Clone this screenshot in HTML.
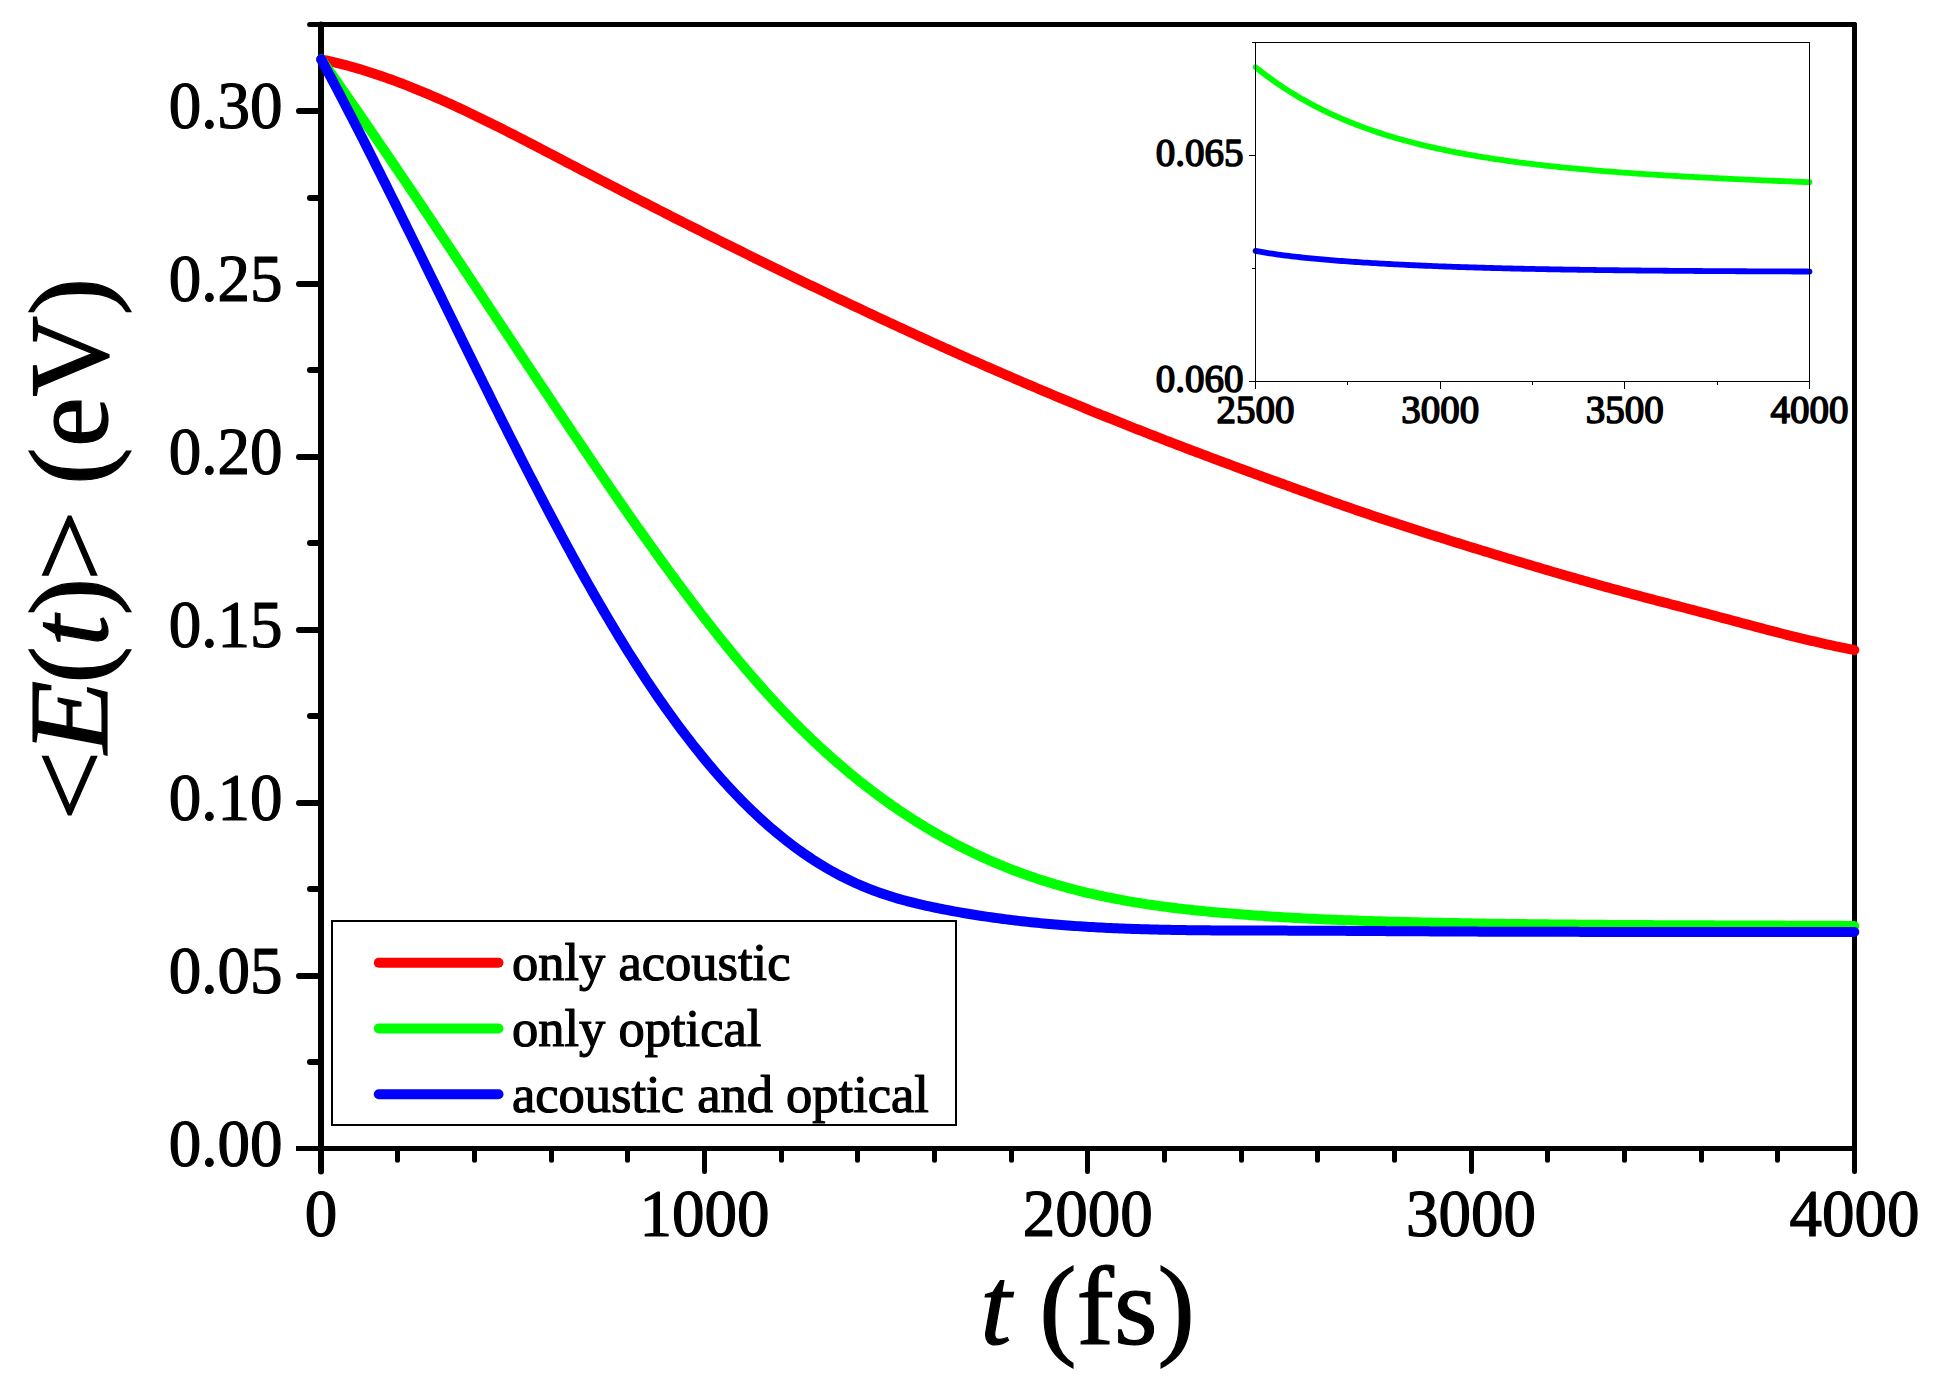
<!DOCTYPE html>
<html><head><meta charset="utf-8"><title>Energy relaxation</title>
<style>
html,body{margin:0;padding:0;background:#fff;}
svg{display:block;}
text{font-family:"Liberation Serif",serif;fill:#000;}
</style></head><body>
<svg width="1933" height="1383" viewBox="0 0 1933 1383">
<rect width="1933" height="1383" fill="#fff"/>

<g stroke="#000" stroke-width="5" fill="none" stroke-linecap="round">
<line x1="321.0" y1="24.5" x2="321.0" y2="1171.5" stroke-width="6"/>
<line x1="1854.5" y1="24.5" x2="1854.5" y2="1171.5"/>
<line x1="309.6" y1="24.5" x2="1854.5" y2="24.5" />
<line x1="296" y1="1148.5" x2="1854.5" y2="1148.5" stroke-linecap="butt"/>
<line x1="310" y1="1062" x2="321.0" y2="1062" stroke-width="6"/>
<line x1="299" y1="976" x2="321.0" y2="976" stroke-width="6"/>
<line x1="310" y1="889" x2="321.0" y2="889" stroke-width="6"/>
<line x1="299" y1="803" x2="321.0" y2="803" stroke-width="6"/>
<line x1="310" y1="716" x2="321.0" y2="716" stroke-width="6"/>
<line x1="299" y1="630" x2="321.0" y2="630" stroke-width="6"/>
<line x1="310" y1="543" x2="321.0" y2="543" stroke-width="6"/>
<line x1="299" y1="457" x2="321.0" y2="457" stroke-width="6"/>
<line x1="310" y1="370" x2="321.0" y2="370" stroke-width="6"/>
<line x1="299" y1="284" x2="321.0" y2="284" stroke-width="6"/>
<line x1="310" y1="198" x2="321.0" y2="198" stroke-width="6"/>
<line x1="299" y1="111" x2="321.0" y2="111" stroke-width="6"/>
<line x1="397.5" y1="1148.5" x2="397.5" y2="1160.3"/>
<line x1="474.5" y1="1148.5" x2="474.5" y2="1160.3"/>
<line x1="551.5" y1="1148.5" x2="551.5" y2="1160.3"/>
<line x1="627.5" y1="1148.5" x2="627.5" y2="1160.3"/>
<line x1="704.5" y1="1148.5" x2="704.5" y2="1171.5"/>
<line x1="781.5" y1="1148.5" x2="781.5" y2="1160.3"/>
<line x1="857.5" y1="1148.5" x2="857.5" y2="1160.3"/>
<line x1="934.5" y1="1148.5" x2="934.5" y2="1160.3"/>
<line x1="1011.5" y1="1148.5" x2="1011.5" y2="1160.3"/>
<line x1="1087.5" y1="1148.5" x2="1087.5" y2="1171.5"/>
<line x1="1164.5" y1="1148.5" x2="1164.5" y2="1160.3"/>
<line x1="1241.5" y1="1148.5" x2="1241.5" y2="1160.3"/>
<line x1="1317.5" y1="1148.5" x2="1317.5" y2="1160.3"/>
<line x1="1394.5" y1="1148.5" x2="1394.5" y2="1160.3"/>
<line x1="1471.5" y1="1148.5" x2="1471.5" y2="1171.5"/>
<line x1="1547.5" y1="1148.5" x2="1547.5" y2="1160.3"/>
<line x1="1624.5" y1="1148.5" x2="1624.5" y2="1160.3"/>
<line x1="1701.5" y1="1148.5" x2="1701.5" y2="1160.3"/>
<line x1="1777.5" y1="1148.5" x2="1777.5" y2="1160.3"/>
</g>
<g font-size="65" stroke="#000" stroke-width="1.2" stroke-linejoin="round">
<text transform="translate(282.4,1165.5) scale(1,1.03)" text-anchor="end">0.00</text>
<text transform="translate(282.4,992.6) scale(1,1.03)" text-anchor="end">0.05</text>
<text transform="translate(282.4,819.7) scale(1,1.03)" text-anchor="end">0.10</text>
<text transform="translate(282.4,646.8) scale(1,1.03)" text-anchor="end">0.15</text>
<text transform="translate(282.4,473.9) scale(1,1.03)" text-anchor="end">0.20</text>
<text transform="translate(282.4,301.0) scale(1,1.03)" text-anchor="end">0.25</text>
<text transform="translate(282.4,128.1) scale(1,1.03)" text-anchor="end">0.30</text>
<text transform="translate(321.0,1235.7) scale(1,1.03)" text-anchor="middle">0</text>
<text transform="translate(704.4,1235.7) scale(1,1.03)" text-anchor="middle">1000</text>
<text transform="translate(1087.8,1235.7) scale(1,1.03)" text-anchor="middle">2000</text>
<text transform="translate(1471.1,1235.7) scale(1,1.03)" text-anchor="middle">3000</text>
<text transform="translate(1854.5,1235.7) scale(1,1.03)" text-anchor="middle">4000</text>
</g>
<text x="1087.5" y="1344.4" font-size="112" stroke="#000" stroke-width="1.2" text-anchor="middle"><tspan font-style="italic">t</tspan> (fs)</text>
<text transform="translate(106.9,815) rotate(-90)" font-size="112" stroke="#000" stroke-width="1.2"><tspan x="-5.9" textLength="70.7" lengthAdjust="spacingAndGlyphs">&lt;</tspan><tspan x="61.2" font-style="italic" textLength="73.2" lengthAdjust="spacingAndGlyphs">E</tspan><tspan x="131.4">(<tspan font-style="italic">t</tspan>)</tspan><tspan x="233.4" textLength="71.5" lengthAdjust="spacingAndGlyphs">&gt;</tspan> <tspan x="330.3" letter-spacing="0.5">(eV)</tspan></text>
<g fill="none" stroke-width="10" stroke-linecap="round" stroke-linejoin="round">
<path stroke="#f00" d="M321.20,59.38 L324.27,60.02 L327.34,60.69 L330.42,61.38 L333.49,62.09 L336.56,62.83 L339.63,63.59 L342.71,64.37 L345.78,65.18 L348.85,66.01 L351.92,66.86 L355.00,67.74 L358.07,68.63 L361.14,69.55 L364.21,70.48 L367.29,71.44 L370.36,72.42 L373.43,73.42 L376.50,74.43 L379.57,75.47 L382.65,76.53 L385.72,77.60 L388.79,78.69 L391.86,79.80 L394.94,80.93 L398.01,82.08 L401.08,83.24 L404.15,84.42 L407.23,85.62 L410.30,86.83 L413.37,88.06 L416.44,89.30 L419.52,90.56 L422.59,91.83 L425.66,93.12 L428.73,94.42 L431.80,95.73 L434.88,97.06 L437.95,98.41 L441.02,99.76 L444.09,101.13 L447.17,102.51 L450.24,103.90 L453.31,105.30 L456.38,106.72 L459.46,108.14 L462.53,109.58 L465.60,111.03 L468.67,112.48 L471.74,113.95 L474.82,115.43 L477.89,116.91 L480.96,118.40 L484.03,119.91 L487.11,121.42 L490.18,122.93 L493.25,124.46 L496.32,125.99 L499.40,127.53 L502.47,129.07 L505.54,130.63 L508.61,132.18 L511.69,133.75 L514.76,135.31 L517.83,136.89 L520.90,138.46 L523.97,140.05 L527.05,141.63 L530.12,143.22 L533.19,144.81 L536.26,146.41 L539.34,148.01 L542.41,149.61 L545.48,151.21 L548.55,152.81 L551.63,154.42 L554.70,156.02 L557.77,157.63 L560.84,159.24 L563.92,160.84 L566.99,162.45 L570.06,164.06 L573.13,165.66 L576.20,167.27 L579.28,168.87 L582.35,170.47 L585.42,172.07 L588.49,173.67 L591.57,175.27 L594.64,176.87 L597.71,178.46 L600.78,180.06 L603.86,181.65 L606.93,183.24 L610.00,184.83 L613.07,186.42 L616.15,188.01 L619.22,189.60 L622.29,191.18 L625.36,192.77 L628.43,194.35 L631.51,195.93 L634.58,197.51 L637.65,199.09 L640.72,200.67 L643.80,202.24 L646.87,203.82 L649.94,205.39 L653.01,206.96 L656.09,208.53 L659.16,210.10 L662.23,211.66 L665.30,213.23 L668.37,214.79 L671.45,216.36 L674.52,217.92 L677.59,219.47 L680.66,221.03 L683.74,222.59 L686.81,224.14 L689.88,225.70 L692.95,227.25 L696.03,228.80 L699.10,230.34 L702.17,231.89 L705.24,233.44 L708.32,234.98 L711.39,236.52 L714.46,238.06 L717.53,239.60 L720.60,241.13 L723.68,242.67 L726.75,244.20 L729.82,245.73 L732.89,247.26 L735.97,248.79 L739.04,250.32 L742.11,251.84 L745.18,253.36 L748.26,254.88 L751.33,256.40 L754.40,257.92 L757.47,259.43 L760.55,260.95 L763.62,262.46 L766.69,263.97 L769.76,265.48 L772.83,266.98 L775.91,268.49 L778.98,269.99 L782.05,271.49 L785.12,272.99 L788.20,274.48 L791.27,275.98 L794.34,277.47 L797.41,278.96 L800.49,280.45 L803.56,281.93 L806.63,283.42 L809.70,284.90 L812.78,286.38 L815.85,287.86 L818.92,289.34 L821.99,290.81 L825.06,292.28 L828.14,293.75 L831.21,295.22 L834.28,296.69 L837.35,298.15 L840.43,299.61 L843.50,301.07 L846.57,302.53 L849.64,303.99 L852.72,305.44 L855.79,306.89 L858.86,308.34 L861.93,309.79 L865.01,311.23 L868.08,312.67 L871.15,314.11 L874.22,315.55 L877.29,316.99 L880.37,318.42 L883.44,319.85 L886.51,321.28 L889.58,322.70 L892.66,324.13 L895.73,325.55 L898.80,326.97 L901.87,328.39 L904.95,329.80 L908.02,331.21 L911.09,332.62 L914.16,334.03 L917.23,335.44 L920.31,336.84 L923.38,338.24 L926.45,339.64 L929.52,341.03 L932.60,342.43 L935.67,343.82 L938.74,345.21 L941.81,346.59 L944.89,347.98 L947.96,349.36 L951.03,350.74 L954.10,352.11 L957.18,353.48 L960.25,354.85 L963.32,356.22 L966.39,357.59 L969.46,358.95 L972.54,360.31 L975.61,361.67 L978.68,363.03 L981.75,364.38 L984.83,365.73 L987.90,367.08 L990.97,368.42 L994.04,369.76 L997.12,371.10 L1000.19,372.44 L1003.26,373.77 L1006.33,375.10 L1009.41,376.43 L1012.48,377.76 L1015.55,379.08 L1018.62,380.40 L1021.69,381.72 L1024.77,383.04 L1027.84,384.35 L1030.91,385.66 L1033.98,386.96 L1037.06,388.27 L1040.13,389.57 L1043.20,390.87 L1046.27,392.16 L1049.35,393.45 L1052.42,394.74 L1055.49,396.03 L1058.56,397.32 L1061.64,398.60 L1064.71,399.88 L1067.78,401.15 L1070.85,402.43 L1073.92,403.70 L1077.00,404.97 L1080.07,406.23 L1083.14,407.49 L1086.21,408.75 L1089.29,410.01 L1092.36,411.26 L1095.43,412.52 L1098.50,413.76 L1101.58,415.01 L1104.65,416.25 L1107.72,417.49 L1110.79,418.73 L1113.86,419.97 L1116.94,421.20 L1120.01,422.43 L1123.08,423.66 L1126.15,424.88 L1129.23,426.10 L1132.30,427.32 L1135.37,428.53 L1138.44,429.75 L1141.52,430.96 L1144.59,432.17 L1147.66,433.37 L1150.73,434.57 L1153.81,435.77 L1156.88,436.97 L1159.95,438.16 L1163.02,439.35 L1166.09,440.54 L1169.17,441.73 L1172.24,442.91 L1175.31,444.09 L1178.38,445.27 L1181.46,446.45 L1184.53,447.62 L1187.60,448.79 L1190.67,449.96 L1193.75,451.12 L1196.82,452.28 L1199.89,453.44 L1202.96,454.60 L1206.04,455.76 L1209.11,456.91 L1212.18,458.06 L1215.25,459.21 L1218.32,460.36 L1221.40,461.51 L1224.47,462.65 L1227.54,463.79 L1230.61,464.93 L1233.69,466.07 L1236.76,467.20 L1239.83,468.34 L1242.90,469.47 L1245.98,470.60 L1249.05,471.73 L1252.12,472.86 L1255.19,473.98 L1258.27,475.11 L1261.34,476.23 L1264.41,477.35 L1267.48,478.47 L1270.55,479.59 L1273.63,480.71 L1276.70,481.82 L1279.77,482.94 L1282.84,484.05 L1285.92,485.17 L1288.99,486.28 L1292.06,487.39 L1295.13,488.50 L1298.21,489.60 L1301.28,490.71 L1304.35,491.81 L1307.42,492.91 L1310.49,494.01 L1313.57,495.10 L1316.64,496.20 L1319.71,497.29 L1322.78,498.38 L1325.86,499.47 L1328.93,500.55 L1332.00,501.63 L1335.07,502.71 L1338.15,503.79 L1341.22,504.86 L1344.29,505.93 L1347.36,506.99 L1350.44,508.06 L1353.51,509.12 L1356.58,510.17 L1359.65,511.23 L1362.72,512.27 L1365.80,513.32 L1368.87,514.36 L1371.94,515.40 L1375.01,516.43 L1378.09,517.46 L1381.16,518.49 L1384.23,519.51 L1387.30,520.53 L1390.38,521.54 L1393.45,522.55 L1396.52,523.56 L1399.59,524.56 L1402.67,525.56 L1405.74,526.56 L1408.81,527.55 L1411.88,528.55 L1414.95,529.53 L1418.03,530.52 L1421.10,531.50 L1424.17,532.48 L1427.24,533.46 L1430.32,534.43 L1433.39,535.41 L1436.46,536.38 L1439.53,537.34 L1442.61,538.31 L1445.68,539.27 L1448.75,540.23 L1451.82,541.19 L1454.90,542.15 L1457.97,543.10 L1461.04,544.06 L1464.11,545.01 L1467.18,545.96 L1470.26,546.91 L1473.33,547.86 L1476.40,548.80 L1479.47,549.75 L1482.55,550.69 L1485.62,551.63 L1488.69,552.57 L1491.76,553.51 L1494.84,554.45 L1497.91,555.39 L1500.98,556.32 L1504.05,557.26 L1507.13,558.19 L1510.20,559.12 L1513.27,560.05 L1516.34,560.97 L1519.41,561.90 L1522.49,562.82 L1525.56,563.74 L1528.63,564.66 L1531.70,565.57 L1534.78,566.49 L1537.85,567.40 L1540.92,568.31 L1543.99,569.22 L1547.07,570.12 L1550.14,571.03 L1553.21,571.93 L1556.28,572.82 L1559.35,573.72 L1562.43,574.61 L1565.50,575.50 L1568.57,576.39 L1571.64,577.28 L1574.72,578.16 L1577.79,579.04 L1580.86,579.91 L1583.93,580.79 L1587.01,581.66 L1590.08,582.52 L1593.15,583.39 L1596.22,584.25 L1599.30,585.11 L1602.37,585.96 L1605.44,586.81 L1608.51,587.66 L1611.58,588.51 L1614.66,589.35 L1617.73,590.18 L1620.80,591.02 L1623.87,591.85 L1626.95,592.68 L1630.02,593.50 L1633.09,594.32 L1636.16,595.14 L1639.24,595.95 L1642.31,596.77 L1645.38,597.58 L1648.45,598.38 L1651.53,599.19 L1654.60,600.00 L1657.67,600.80 L1660.74,601.60 L1663.81,602.40 L1666.89,603.21 L1669.96,604.01 L1673.03,604.81 L1676.10,605.61 L1679.18,606.41 L1682.25,607.22 L1685.32,608.02 L1688.39,608.83 L1691.47,609.63 L1694.54,610.44 L1697.61,611.25 L1700.68,612.06 L1703.76,612.88 L1706.83,613.70 L1709.90,614.52 L1712.97,615.34 L1716.04,616.16 L1719.12,616.98 L1722.19,617.80 L1725.26,618.63 L1728.33,619.45 L1731.41,620.28 L1734.48,621.10 L1737.55,621.92 L1740.62,622.75 L1743.70,623.57 L1746.77,624.39 L1749.84,625.20 L1752.91,626.02 L1755.98,626.83 L1759.06,627.64 L1762.13,628.45 L1765.20,629.26 L1768.27,630.06 L1771.35,630.86 L1774.42,631.65 L1777.49,632.44 L1780.56,633.23 L1783.64,634.01 L1786.71,634.78 L1789.78,635.55 L1792.85,636.32 L1795.93,637.08 L1799.00,637.83 L1802.07,638.57 L1805.14,639.31 L1808.21,640.05 L1811.29,640.77 L1814.36,641.49 L1817.43,642.20 L1820.50,642.90 L1823.58,643.59 L1826.65,644.28 L1829.72,644.95 L1832.79,645.62 L1835.87,646.28 L1838.94,646.92 L1842.01,647.56 L1845.08,648.19 L1848.16,648.81 L1851.23,649.41 L1854.30,650.01"/>
<path stroke="#0f0" d="M321.20,59.41 L324.27,63.76 L327.34,68.11 L330.42,72.47 L333.49,76.85 L336.56,81.23 L339.63,85.62 L342.71,90.02 L345.78,94.43 L348.85,98.85 L351.92,103.28 L355.00,107.72 L358.07,112.16 L361.14,116.62 L364.21,121.08 L367.29,125.55 L370.36,130.03 L373.43,134.51 L376.50,139.00 L379.57,143.50 L382.65,148.01 L385.72,152.52 L388.79,157.04 L391.86,161.57 L394.94,166.10 L398.01,170.64 L401.08,175.18 L404.15,179.73 L407.23,184.29 L410.30,188.85 L413.37,193.41 L416.44,197.98 L419.52,202.56 L422.59,207.14 L425.66,211.72 L428.73,216.31 L431.80,220.90 L434.88,225.50 L437.95,230.10 L441.02,234.70 L444.09,239.30 L447.17,243.91 L450.24,248.52 L453.31,253.14 L456.38,257.75 L459.46,262.37 L462.53,266.99 L465.60,271.62 L468.67,276.24 L471.74,280.87 L474.82,285.50 L477.89,290.13 L480.96,294.75 L484.03,299.39 L487.11,304.02 L490.18,308.65 L493.25,313.28 L496.32,317.91 L499.40,322.54 L502.47,327.17 L505.54,331.80 L508.61,336.44 L511.69,341.06 L514.76,345.69 L517.83,350.32 L520.90,354.94 L523.97,359.57 L527.05,364.19 L530.12,368.81 L533.19,373.43 L536.26,378.04 L539.34,382.66 L542.41,387.27 L545.48,391.87 L548.55,396.48 L551.63,401.08 L554.70,405.67 L557.77,410.27 L560.84,414.86 L563.92,419.44 L566.99,424.02 L570.06,428.60 L573.13,433.17 L576.20,437.74 L579.28,442.30 L582.35,446.85 L585.42,451.40 L588.49,455.94 L591.57,460.48 L594.64,465.00 L597.71,469.52 L600.78,474.03 L603.86,478.53 L606.93,483.02 L610.00,487.50 L613.07,491.97 L616.15,496.42 L619.22,500.87 L622.29,505.31 L625.36,509.73 L628.43,514.14 L631.51,518.54 L634.58,522.93 L637.65,527.30 L640.72,531.66 L643.80,536.00 L646.87,540.33 L649.94,544.64 L653.01,548.94 L656.09,553.22 L659.16,557.48 L662.23,561.73 L665.30,565.96 L668.37,570.17 L671.45,574.36 L674.52,578.53 L677.59,582.69 L680.66,586.83 L683.74,590.94 L686.81,595.04 L689.88,599.11 L692.95,603.16 L696.03,607.20 L699.10,611.20 L702.17,615.19 L705.24,619.16 L708.32,623.10 L711.39,627.01 L714.46,630.91 L717.53,634.77 L720.60,638.62 L723.68,642.44 L726.75,646.23 L729.82,649.99 L732.89,653.73 L735.97,657.44 L739.04,661.13 L742.11,664.79 L745.18,668.41 L748.26,672.01 L751.33,675.58 L754.40,679.13 L757.47,682.64 L760.55,686.12 L763.62,689.57 L766.69,692.98 L769.76,696.37 L772.83,699.73 L775.91,703.05 L778.98,706.34 L782.05,709.59 L785.12,712.82 L788.20,716.00 L791.27,719.16 L794.34,722.28 L797.41,725.37 L800.49,728.43 L803.56,731.46 L806.63,734.45 L809.70,737.41 L812.78,740.34 L815.85,743.24 L818.92,746.10 L821.99,748.94 L825.06,751.74 L828.14,754.51 L831.21,757.25 L834.28,759.96 L837.35,762.64 L840.43,765.29 L843.50,767.91 L846.57,770.50 L849.64,773.06 L852.72,775.59 L855.79,778.09 L858.86,780.55 L861.93,782.99 L865.01,785.40 L868.08,787.79 L871.15,790.14 L874.22,792.46 L877.29,794.76 L880.37,797.02 L883.44,799.26 L886.51,801.47 L889.58,803.65 L892.66,805.81 L895.73,807.94 L898.80,810.03 L901.87,812.11 L904.95,814.15 L908.02,816.17 L911.09,818.16 L914.16,820.12 L917.23,822.06 L920.31,823.97 L923.38,825.86 L926.45,827.72 L929.52,829.55 L932.60,831.36 L935.67,833.14 L938.74,834.89 L941.81,836.63 L944.89,838.33 L947.96,840.01 L951.03,841.67 L954.10,843.30 L957.18,844.91 L960.25,846.49 L963.32,848.05 L966.39,849.58 L969.46,851.09 L972.54,852.58 L975.61,854.04 L978.68,855.48 L981.75,856.90 L984.83,858.29 L987.90,859.67 L990.97,861.01 L994.04,862.34 L997.12,863.64 L1000.19,864.92 L1003.26,866.18 L1006.33,867.42 L1009.41,868.63 L1012.48,869.83 L1015.55,871.00 L1018.62,872.15 L1021.69,873.28 L1024.77,874.39 L1027.84,875.48 L1030.91,876.55 L1033.98,877.59 L1037.06,878.62 L1040.13,879.63 L1043.20,880.62 L1046.27,881.58 L1049.35,882.53 L1052.42,883.47 L1055.49,884.38 L1058.56,885.27 L1061.64,886.15 L1064.71,887.01 L1067.78,887.85 L1070.85,888.67 L1073.92,889.48 L1077.00,890.27 L1080.07,891.04 L1083.14,891.80 L1086.21,892.54 L1089.29,893.26 L1092.36,893.97 L1095.43,894.66 L1098.50,895.34 L1101.58,896.01 L1104.65,896.65 L1107.72,897.29 L1110.79,897.91 L1113.86,898.51 L1116.94,899.11 L1120.01,899.69 L1123.08,900.25 L1126.15,900.80 L1129.23,901.34 L1132.30,901.87 L1135.37,902.39 L1138.44,902.89 L1141.52,903.38 L1144.59,903.86 L1147.66,904.33 L1150.73,904.79 L1153.81,905.23 L1156.88,905.67 L1159.95,906.09 L1163.02,906.51 L1166.09,906.91 L1169.17,907.31 L1172.24,907.70 L1175.31,908.07 L1178.38,908.44 L1181.46,908.80 L1184.53,909.15 L1187.60,909.49 L1190.67,909.83 L1193.75,910.16 L1196.82,910.48 L1199.89,910.79 L1202.96,911.09 L1206.04,911.39 L1209.11,911.69 L1212.18,911.97 L1215.25,912.25 L1218.32,912.53 L1221.40,912.79 L1224.47,913.06 L1227.54,913.32 L1230.61,913.57 L1233.69,913.82 L1236.76,914.06 L1239.83,914.30 L1242.90,914.54 L1245.98,914.77 L1249.05,914.99 L1252.12,915.22 L1255.19,915.43 L1258.27,915.65 L1261.34,915.86 L1264.41,916.06 L1267.48,916.26 L1270.55,916.46 L1273.63,916.65 L1276.70,916.84 L1279.77,917.03 L1282.84,917.21 L1285.92,917.39 L1288.99,917.56 L1292.06,917.73 L1295.13,917.90 L1298.21,918.07 L1301.28,918.23 L1304.35,918.38 L1307.42,918.54 L1310.49,918.69 L1313.57,918.84 L1316.64,918.98 L1319.71,919.12 L1322.78,919.26 L1325.86,919.39 L1328.93,919.53 L1332.00,919.65 L1335.07,919.78 L1338.15,919.90 L1341.22,920.02 L1344.29,920.14 L1347.36,920.26 L1350.44,920.37 L1353.51,920.48 L1356.58,920.59 L1359.65,920.69 L1362.72,920.80 L1365.80,920.90 L1368.87,921.00 L1371.94,921.09 L1375.01,921.19 L1378.09,921.28 L1381.16,921.37 L1384.23,921.46 L1387.30,921.54 L1390.38,921.63 L1393.45,921.71 L1396.52,921.79 L1399.59,921.87 L1402.67,921.95 L1405.74,922.02 L1408.81,922.10 L1411.88,922.17 L1414.95,922.24 L1418.03,922.31 L1421.10,922.38 L1424.17,922.45 L1427.24,922.52 L1430.32,922.58 L1433.39,922.65 L1436.46,922.71 L1439.53,922.77 L1442.61,922.83 L1445.68,922.89 L1448.75,922.95 L1451.82,923.01 L1454.90,923.06 L1457.97,923.12 L1461.04,923.18 L1464.11,923.23 L1467.18,923.28 L1470.26,923.33 L1473.33,923.39 L1476.40,923.44 L1479.47,923.49 L1482.55,923.53 L1485.62,923.58 L1488.69,923.63 L1491.76,923.67 L1494.84,923.72 L1497.91,923.76 L1500.98,923.81 L1504.05,923.85 L1507.13,923.89 L1510.20,923.93 L1513.27,923.97 L1516.34,924.01 L1519.41,924.05 L1522.49,924.09 L1525.56,924.12 L1528.63,924.16 L1531.70,924.20 L1534.78,924.23 L1537.85,924.26 L1540.92,924.30 L1543.99,924.33 L1547.07,924.36 L1550.14,924.39 L1553.21,924.42 L1556.28,924.45 L1559.35,924.48 L1562.43,924.51 L1565.50,924.54 L1568.57,924.57 L1571.64,924.59 L1574.72,924.62 L1577.79,924.65 L1580.86,924.67 L1583.93,924.70 L1587.01,924.72 L1590.08,924.74 L1593.15,924.77 L1596.22,924.79 L1599.30,924.81 L1602.37,924.83 L1605.44,924.85 L1608.51,924.88 L1611.58,924.90 L1614.66,924.92 L1617.73,924.93 L1620.80,924.95 L1623.87,924.97 L1626.95,924.99 L1630.02,925.01 L1633.09,925.03 L1636.16,925.04 L1639.24,925.06 L1642.31,925.07 L1645.38,925.09 L1648.45,925.11 L1651.53,925.12 L1654.60,925.14 L1657.67,925.15 L1660.74,925.16 L1663.81,925.18 L1666.89,925.19 L1669.96,925.21 L1673.03,925.22 L1676.10,925.23 L1679.18,925.24 L1682.25,925.26 L1685.32,925.27 L1688.39,925.28 L1691.47,925.29 L1694.54,925.31 L1697.61,925.32 L1700.68,925.33 L1703.76,925.34 L1706.83,925.35 L1709.90,925.36 L1712.97,925.37 L1716.04,925.38 L1719.12,925.39 L1722.19,925.40 L1725.26,925.42 L1728.33,925.43 L1731.41,925.44 L1734.48,925.45 L1737.55,925.46 L1740.62,925.47 L1743.70,925.48 L1746.77,925.49 L1749.84,925.50 L1752.91,925.51 L1755.98,925.52 L1759.06,925.53 L1762.13,925.54 L1765.20,925.55 L1768.27,925.56 L1771.35,925.57 L1774.42,925.58 L1777.49,925.59 L1780.56,925.60 L1783.64,925.62 L1786.71,925.63 L1789.78,925.64 L1792.85,925.65 L1795.93,925.66 L1799.00,925.67 L1802.07,925.69 L1805.14,925.70 L1808.21,925.71 L1811.29,925.72 L1814.36,925.74 L1817.43,925.75 L1820.50,925.76 L1823.58,925.78 L1826.65,925.79 L1829.72,925.81 L1832.79,925.82 L1835.87,925.84 L1838.94,925.85 L1842.01,925.87 L1845.08,925.88 L1848.16,925.90 L1851.23,925.91 L1854.30,925.93"/>
<path stroke="#00f" d="M321.20,59.39 L324.27,65.12 L327.34,70.87 L330.42,76.65 L333.49,82.46 L336.56,88.29 L339.63,94.15 L342.71,100.03 L345.78,105.94 L348.85,111.87 L351.92,117.82 L355.00,123.79 L358.07,129.78 L361.14,135.80 L364.21,141.83 L367.29,147.89 L370.36,153.96 L373.43,160.04 L376.50,166.15 L379.57,172.27 L382.65,178.40 L385.72,184.55 L388.79,190.71 L391.86,196.89 L394.94,203.07 L398.01,209.27 L401.08,215.48 L404.15,221.70 L407.23,227.93 L410.30,234.16 L413.37,240.40 L416.44,246.65 L419.52,252.91 L422.59,259.17 L425.66,265.44 L428.73,271.71 L431.80,277.98 L434.88,284.25 L437.95,290.53 L441.02,296.81 L444.09,303.09 L447.17,309.36 L450.24,315.64 L453.31,321.91 L456.38,328.18 L459.46,334.45 L462.53,340.72 L465.60,346.97 L468.67,353.23 L471.74,359.47 L474.82,365.71 L477.89,371.94 L480.96,378.16 L484.03,384.37 L487.11,390.58 L490.18,396.77 L493.25,402.95 L496.32,409.11 L499.40,415.27 L502.47,421.41 L505.54,427.53 L508.61,433.64 L511.69,439.74 L514.76,445.81 L517.83,451.87 L520.90,457.91 L523.97,463.93 L527.05,469.93 L530.12,475.92 L533.19,481.88 L536.26,487.81 L539.34,493.73 L542.41,499.62 L545.48,505.49 L548.55,511.33 L551.63,517.15 L554.70,522.94 L557.77,528.70 L560.84,534.43 L563.92,540.14 L566.99,545.82 L570.06,551.46 L573.13,557.08 L576.20,562.66 L579.28,568.21 L582.35,573.73 L585.42,579.22 L588.49,584.67 L591.57,590.08 L594.64,595.46 L597.71,600.80 L600.78,606.10 L603.86,611.37 L606.93,616.59 L610.00,621.78 L613.07,626.93 L616.15,632.03 L619.22,637.09 L622.29,642.11 L625.36,647.09 L628.43,652.02 L631.51,656.91 L634.58,661.75 L637.65,666.54 L640.72,671.29 L643.80,676.00 L646.87,680.65 L649.94,685.26 L653.01,689.82 L656.09,694.33 L659.16,698.80 L662.23,703.22 L665.30,707.59 L668.37,711.91 L671.45,716.19 L674.52,720.42 L677.59,724.59 L680.66,728.73 L683.74,732.81 L686.81,736.84 L689.88,740.82 L692.95,744.76 L696.03,748.65 L699.10,752.48 L702.17,756.27 L705.24,760.01 L708.32,763.69 L711.39,767.33 L714.46,770.92 L717.53,774.45 L720.60,777.94 L723.68,781.38 L726.75,784.76 L729.82,788.10 L732.89,791.38 L735.97,794.62 L739.04,797.80 L742.11,800.94 L745.18,804.02 L748.26,807.06 L751.33,810.04 L754.40,812.98 L757.47,815.86 L760.55,818.70 L763.62,821.49 L766.69,824.23 L769.76,826.92 L772.83,829.56 L775.91,832.16 L778.98,834.70 L782.05,837.20 L785.12,839.65 L788.20,842.05 L791.27,844.40 L794.34,846.71 L797.41,848.97 L800.49,851.18 L803.56,853.34 L806.63,855.45 L809.70,857.52 L812.78,859.55 L815.85,861.52 L818.92,863.46 L821.99,865.34 L825.06,867.18 L828.14,868.98 L831.21,870.73 L834.28,872.44 L837.35,874.10 L840.43,875.72 L843.50,877.30 L846.57,878.84 L849.64,880.33 L852.72,881.78 L855.79,883.19 L858.86,884.55 L861.93,885.88 L865.01,887.17 L868.08,888.41 L871.15,889.62 L874.22,890.78 L877.29,891.91 L880.37,893.00 L883.44,894.06 L886.51,895.08 L889.58,896.06 L892.66,897.02 L895.73,897.95 L898.80,898.84 L901.87,899.71 L904.95,900.55 L908.02,901.36 L911.09,902.15 L914.16,902.92 L917.23,903.66 L920.31,904.39 L923.38,905.09 L926.45,905.78 L929.52,906.45 L932.60,907.10 L935.67,907.74 L938.74,908.36 L941.81,908.98 L944.89,909.58 L947.96,910.17 L951.03,910.75 L954.10,911.32 L957.18,911.87 L960.25,912.42 L963.32,912.95 L966.39,913.48 L969.46,913.99 L972.54,914.49 L975.61,914.99 L978.68,915.47 L981.75,915.94 L984.83,916.40 L987.90,916.86 L990.97,917.30 L994.04,917.73 L997.12,918.15 L1000.19,918.57 L1003.26,918.97 L1006.33,919.37 L1009.41,919.75 L1012.48,920.13 L1015.55,920.50 L1018.62,920.85 L1021.69,921.20 L1024.77,921.55 L1027.84,921.88 L1030.91,922.20 L1033.98,922.52 L1037.06,922.83 L1040.13,923.13 L1043.20,923.42 L1046.27,923.70 L1049.35,923.98 L1052.42,924.25 L1055.49,924.51 L1058.56,924.76 L1061.64,925.01 L1064.71,925.24 L1067.78,925.48 L1070.85,925.70 L1073.92,925.92 L1077.00,926.13 L1080.07,926.33 L1083.14,926.53 L1086.21,926.72 L1089.29,926.91 L1092.36,927.09 L1095.43,927.26 L1098.50,927.43 L1101.58,927.59 L1104.65,927.74 L1107.72,927.89 L1110.79,928.04 L1113.86,928.17 L1116.94,928.31 L1120.01,928.44 L1123.08,928.56 L1126.15,928.68 L1129.23,928.79 L1132.30,928.90 L1135.37,929.00 L1138.44,929.10 L1141.52,929.19 L1144.59,929.28 L1147.66,929.37 L1150.73,929.45 L1153.81,929.53 L1156.88,929.60 L1159.95,929.67 L1163.02,929.74 L1166.09,929.80 L1169.17,929.86 L1172.24,929.91 L1175.31,929.97 L1178.38,930.02 L1181.46,930.06 L1184.53,930.11 L1187.60,930.15 L1190.67,930.18 L1193.75,930.22 L1196.82,930.25 L1199.89,930.28 L1202.96,930.31 L1206.04,930.34 L1209.11,930.36 L1212.18,930.38 L1215.25,930.40 L1218.32,930.42 L1221.40,930.44 L1224.47,930.46 L1227.54,930.47 L1230.61,930.48 L1233.69,930.49 L1236.76,930.50 L1239.83,930.51 L1242.90,930.52 L1245.98,930.53 L1249.05,930.54 L1252.12,930.55 L1255.19,930.55 L1258.27,930.56 L1261.34,930.56 L1264.41,930.57 L1267.48,930.58 L1270.55,930.58 L1273.63,930.59 L1276.70,930.60 L1279.77,930.60 L1282.84,930.61 L1285.92,930.62 L1288.99,930.63 L1292.06,930.64 L1295.13,930.65 L1298.21,930.66 L1301.28,930.67 L1304.35,930.68 L1307.42,930.70 L1310.49,930.71 L1313.57,930.72 L1316.64,930.74 L1319.71,930.75 L1322.78,930.76 L1325.86,930.78 L1328.93,930.79 L1332.00,930.81 L1335.07,930.83 L1338.15,930.84 L1341.22,930.86 L1344.29,930.87 L1347.36,930.89 L1350.44,930.91 L1353.51,930.93 L1356.58,930.94 L1359.65,930.96 L1362.72,930.98 L1365.80,931.00 L1368.87,931.02 L1371.94,931.03 L1375.01,931.05 L1378.09,931.07 L1381.16,931.09 L1384.23,931.11 L1387.30,931.13 L1390.38,931.15 L1393.45,931.17 L1396.52,931.18 L1399.59,931.20 L1402.67,931.22 L1405.74,931.24 L1408.81,931.26 L1411.88,931.28 L1414.95,931.30 L1418.03,931.31 L1421.10,931.33 L1424.17,931.35 L1427.24,931.37 L1430.32,931.39 L1433.39,931.40 L1436.46,931.42 L1439.53,931.44 L1442.61,931.46 L1445.68,931.47 L1448.75,931.49 L1451.82,931.51 L1454.90,931.52 L1457.97,931.54 L1461.04,931.55 L1464.11,931.57 L1467.18,931.58 L1470.26,931.60 L1473.33,931.61 L1476.40,931.62 L1479.47,931.64 L1482.55,931.65 L1485.62,931.66 L1488.69,931.67 L1491.76,931.68 L1494.84,931.69 L1497.91,931.70 L1500.98,931.72 L1504.05,931.73 L1507.13,931.73 L1510.20,931.74 L1513.27,931.75 L1516.34,931.76 L1519.41,931.77 L1522.49,931.78 L1525.56,931.79 L1528.63,931.79 L1531.70,931.80 L1534.78,931.81 L1537.85,931.81 L1540.92,931.82 L1543.99,931.83 L1547.07,931.83 L1550.14,931.84 L1553.21,931.84 L1556.28,931.85 L1559.35,931.85 L1562.43,931.85 L1565.50,931.86 L1568.57,931.86 L1571.64,931.87 L1574.72,931.87 L1577.79,931.87 L1580.86,931.88 L1583.93,931.88 L1587.01,931.88 L1590.08,931.88 L1593.15,931.89 L1596.22,931.89 L1599.30,931.89 L1602.37,931.89 L1605.44,931.89 L1608.51,931.89 L1611.58,931.90 L1614.66,931.90 L1617.73,931.90 L1620.80,931.90 L1623.87,931.90 L1626.95,931.90 L1630.02,931.90 L1633.09,931.90 L1636.16,931.90 L1639.24,931.90 L1642.31,931.90 L1645.38,931.90 L1648.45,931.90 L1651.53,931.90 L1654.60,931.90 L1657.67,931.90 L1660.74,931.90 L1663.81,931.90 L1666.89,931.90 L1669.96,931.90 L1673.03,931.90 L1676.10,931.90 L1679.18,931.90 L1682.25,931.89 L1685.32,931.89 L1688.39,931.89 L1691.47,931.89 L1694.54,931.89 L1697.61,931.89 L1700.68,931.89 L1703.76,931.89 L1706.83,931.89 L1709.90,931.89 L1712.97,931.89 L1716.04,931.89 L1719.12,931.89 L1722.19,931.89 L1725.26,931.89 L1728.33,931.88 L1731.41,931.88 L1734.48,931.88 L1737.55,931.88 L1740.62,931.88 L1743.70,931.88 L1746.77,931.88 L1749.84,931.88 L1752.91,931.88 L1755.98,931.88 L1759.06,931.88 L1762.13,931.89 L1765.20,931.89 L1768.27,931.89 L1771.35,931.89 L1774.42,931.89 L1777.49,931.89 L1780.56,931.89 L1783.64,931.89 L1786.71,931.90 L1789.78,931.90 L1792.85,931.90 L1795.93,931.90 L1799.00,931.90 L1802.07,931.91 L1805.14,931.91 L1808.21,931.91 L1811.29,931.92 L1814.36,931.92 L1817.43,931.92 L1820.50,931.93 L1823.58,931.93 L1826.65,931.94 L1829.72,931.94 L1832.79,931.95 L1835.87,931.95 L1838.94,931.96 L1842.01,931.96 L1845.08,931.97 L1848.16,931.97 L1851.23,931.98 L1854.30,931.99"/>
</g>
<rect x="332" y="921" width="624" height="204" fill="#fff" stroke="#000" stroke-width="2"/>
<g stroke-width="10" stroke-linecap="round">
<line x1="378.8" y1="962.8" x2="498.5" y2="962.8" stroke="#f00"/>
<line x1="378.8" y1="1028.5" x2="498.5" y2="1028.5" stroke="#0f0"/>
<line x1="378.8" y1="1094.2" x2="498.5" y2="1094.2" stroke="#00f"/>
</g>
<g font-size="52.5" stroke="#000" stroke-width="1.2" stroke-linejoin="round">
<text x="512" y="980.4">only acoustic</text>
<text x="512" y="1046.2">only optical</text>
<text x="512" y="1112">acoustic and optical</text>
</g>
<g fill="none" stroke-width="5.8" stroke-linecap="round" stroke-linejoin="round">
<path stroke="#0f0" d="M1255.60,67.21 L1258.38,69.44 L1261.17,71.63 L1263.95,73.77 L1266.73,75.86 L1269.52,77.91 L1272.30,79.92 L1275.08,81.89 L1277.87,83.82 L1280.65,85.71 L1283.43,87.56 L1286.22,89.37 L1289.00,91.15 L1291.78,92.88 L1294.57,94.59 L1297.35,96.26 L1300.13,97.89 L1302.92,99.49 L1305.70,101.06 L1308.48,102.60 L1311.27,104.11 L1314.05,105.58 L1316.84,107.03 L1319.62,108.45 L1322.40,109.83 L1325.19,111.19 L1327.97,112.53 L1330.75,113.83 L1333.54,115.11 L1336.32,116.37 L1339.10,117.60 L1341.89,118.80 L1344.67,119.98 L1347.45,121.14 L1350.24,122.28 L1353.02,123.39 L1355.80,124.48 L1358.59,125.54 L1361.37,126.59 L1364.15,127.62 L1366.94,128.62 L1369.72,129.61 L1372.50,130.58 L1375.29,131.53 L1378.07,132.46 L1380.85,133.37 L1383.64,134.26 L1386.42,135.14 L1389.20,136.00 L1391.99,136.84 L1394.77,137.66 L1397.55,138.47 L1400.34,139.27 L1403.12,140.05 L1405.90,140.81 L1408.69,141.56 L1411.47,142.30 L1414.25,143.02 L1417.04,143.73 L1419.82,144.42 L1422.61,145.10 L1425.39,145.77 L1428.17,146.43 L1430.96,147.07 L1433.74,147.70 L1436.52,148.32 L1439.31,148.93 L1442.09,149.53 L1444.87,150.12 L1447.66,150.69 L1450.44,151.25 L1453.22,151.81 L1456.01,152.35 L1458.79,152.89 L1461.57,153.41 L1464.36,153.93 L1467.14,154.43 L1469.92,154.93 L1472.71,155.42 L1475.49,155.89 L1478.27,156.37 L1481.06,156.83 L1483.84,157.28 L1486.62,157.73 L1489.41,158.16 L1492.19,158.60 L1494.97,159.02 L1497.76,159.43 L1500.54,159.84 L1503.32,160.24 L1506.11,160.64 L1508.89,161.02 L1511.67,161.41 L1514.46,161.78 L1517.24,162.15 L1520.02,162.51 L1522.81,162.87 L1525.59,163.22 L1528.37,163.56 L1531.16,163.90 L1533.94,164.23 L1536.73,164.56 L1539.51,164.88 L1542.29,165.20 L1545.08,165.51 L1547.86,165.82 L1550.64,166.12 L1553.43,166.42 L1556.21,166.71 L1558.99,167.00 L1561.78,167.28 L1564.56,167.56 L1567.34,167.84 L1570.13,168.11 L1572.91,168.37 L1575.69,168.64 L1578.48,168.90 L1581.26,169.15 L1584.04,169.40 L1586.83,169.65 L1589.61,169.89 L1592.39,170.13 L1595.18,170.37 L1597.96,170.60 L1600.74,170.83 L1603.53,171.06 L1606.31,171.28 L1609.09,171.50 L1611.88,171.72 L1614.66,171.93 L1617.44,172.15 L1620.23,172.35 L1623.01,172.56 L1625.79,172.76 L1628.58,172.96 L1631.36,173.16 L1634.14,173.36 L1636.93,173.55 L1639.71,173.74 L1642.49,173.93 L1645.28,174.11 L1648.06,174.30 L1650.85,174.48 L1653.63,174.65 L1656.41,174.83 L1659.20,175.01 L1661.98,175.18 L1664.76,175.35 L1667.55,175.52 L1670.33,175.68 L1673.11,175.85 L1675.90,176.01 L1678.68,176.17 L1681.46,176.33 L1684.25,176.48 L1687.03,176.64 L1689.81,176.79 L1692.60,176.95 L1695.38,177.10 L1698.16,177.24 L1700.95,177.39 L1703.73,177.54 L1706.51,177.68 L1709.30,177.82 L1712.08,177.97 L1714.86,178.11 L1717.65,178.24 L1720.43,178.38 L1723.21,178.52 L1726.00,178.65 L1728.78,178.78 L1731.56,178.92 L1734.35,179.05 L1737.13,179.18 L1739.91,179.31 L1742.70,179.43 L1745.48,179.56 L1748.26,179.68 L1751.05,179.81 L1753.83,179.93 L1756.62,180.05 L1759.40,180.17 L1762.18,180.29 L1764.97,180.41 L1767.75,180.53 L1770.53,180.65 L1773.32,180.76 L1776.10,180.88 L1778.88,180.99 L1781.67,181.11 L1784.45,181.22 L1787.23,181.33 L1790.02,181.44 L1792.80,181.55 L1795.58,181.66 L1798.37,181.77 L1801.15,181.88 L1803.93,181.99 L1806.72,182.10 L1809.50,182.20"/>
<path stroke="#00f" d="M1255.60,250.90 L1258.38,251.43 L1261.17,251.93 L1263.95,252.41 L1266.73,252.87 L1269.52,253.31 L1272.30,253.74 L1275.08,254.15 L1277.87,254.54 L1280.65,254.92 L1283.43,255.28 L1286.22,255.64 L1289.00,255.98 L1291.78,256.31 L1294.57,256.64 L1297.35,256.95 L1300.13,257.25 L1302.92,257.55 L1305.70,257.84 L1308.48,258.12 L1311.27,258.39 L1314.05,258.65 L1316.84,258.91 L1319.62,259.17 L1322.40,259.41 L1325.19,259.66 L1327.97,259.89 L1330.75,260.12 L1333.54,260.35 L1336.32,260.57 L1339.10,260.79 L1341.89,261.00 L1344.67,261.21 L1347.45,261.41 L1350.24,261.61 L1353.02,261.80 L1355.80,261.99 L1358.59,262.18 L1361.37,262.36 L1364.15,262.54 L1366.94,262.72 L1369.72,262.89 L1372.50,263.06 L1375.29,263.23 L1378.07,263.39 L1380.85,263.55 L1383.64,263.71 L1386.42,263.86 L1389.20,264.01 L1391.99,264.16 L1394.77,264.31 L1397.55,264.45 L1400.34,264.59 L1403.12,264.72 L1405.90,264.86 L1408.69,264.99 L1411.47,265.12 L1414.25,265.25 L1417.04,265.37 L1419.82,265.50 L1422.61,265.62 L1425.39,265.73 L1428.17,265.85 L1430.96,265.96 L1433.74,266.07 L1436.52,266.18 L1439.31,266.29 L1442.09,266.40 L1444.87,266.50 L1447.66,266.60 L1450.44,266.70 L1453.22,266.80 L1456.01,266.90 L1458.79,266.99 L1461.57,267.08 L1464.36,267.17 L1467.14,267.26 L1469.92,267.35 L1472.71,267.44 L1475.49,267.52 L1478.27,267.60 L1481.06,267.68 L1483.84,267.76 L1486.62,267.84 L1489.41,267.92 L1492.19,267.99 L1494.97,268.07 L1497.76,268.14 L1500.54,268.21 L1503.32,268.28 L1506.11,268.35 L1508.89,268.42 L1511.67,268.48 L1514.46,268.55 L1517.24,268.61 L1520.02,268.68 L1522.81,268.74 L1525.59,268.80 L1528.37,268.86 L1531.16,268.92 L1533.94,268.97 L1536.73,269.03 L1539.51,269.08 L1542.29,269.14 L1545.08,269.19 L1547.86,269.24 L1550.64,269.29 L1553.43,269.34 L1556.21,269.39 L1558.99,269.44 L1561.78,269.49 L1564.56,269.54 L1567.34,269.58 L1570.13,269.63 L1572.91,269.67 L1575.69,269.71 L1578.48,269.76 L1581.26,269.80 L1584.04,269.84 L1586.83,269.88 L1589.61,269.92 L1592.39,269.96 L1595.18,269.99 L1597.96,270.03 L1600.74,270.07 L1603.53,270.10 L1606.31,270.14 L1609.09,270.17 L1611.88,270.21 L1614.66,270.24 L1617.44,270.27 L1620.23,270.31 L1623.01,270.34 L1625.79,270.37 L1628.58,270.40 L1631.36,270.43 L1634.14,270.46 L1636.93,270.49 L1639.71,270.51 L1642.49,270.54 L1645.28,270.57 L1648.06,270.60 L1650.85,270.62 L1653.63,270.65 L1656.41,270.67 L1659.20,270.70 L1661.98,270.72 L1664.76,270.75 L1667.55,270.77 L1670.33,270.79 L1673.11,270.81 L1675.90,270.84 L1678.68,270.86 L1681.46,270.88 L1684.25,270.90 L1687.03,270.92 L1689.81,270.94 L1692.60,270.96 L1695.38,270.98 L1698.16,271.00 L1700.95,271.02 L1703.73,271.04 L1706.51,271.05 L1709.30,271.07 L1712.08,271.09 L1714.86,271.11 L1717.65,271.12 L1720.43,271.14 L1723.21,271.16 L1726.00,271.17 L1728.78,271.19 L1731.56,271.20 L1734.35,271.22 L1737.13,271.23 L1739.91,271.25 L1742.70,271.26 L1745.48,271.27 L1748.26,271.29 L1751.05,271.30 L1753.83,271.31 L1756.62,271.33 L1759.40,271.34 L1762.18,271.35 L1764.97,271.37 L1767.75,271.38 L1770.53,271.39 L1773.32,271.40 L1776.10,271.41 L1778.88,271.42 L1781.67,271.43 L1784.45,271.44 L1787.23,271.46 L1790.02,271.47 L1792.80,271.48 L1795.58,271.49 L1798.37,271.50 L1801.15,271.50 L1803.93,271.51 L1806.72,271.52 L1809.50,271.53"/>
</g>
<g stroke="#000" stroke-width="1" fill="none" shape-rendering="crispEdges">
<line x1="1252" y1="42.5" x2="1810" y2="42.5"/>
<line x1="1255.5" y1="42" x2="1255.5" y2="389"/>
<line x1="1249" y1="381.5" x2="1810" y2="381.5"/>
<line x1="1809.5" y1="42" x2="1809.5" y2="389"/>
<line x1="1249" y1="155.5" x2="1256" y2="155.5"/>
<line x1="1252" y1="268.5" x2="1256" y2="268.5"/>
<line x1="1347.5" y1="381" x2="1347.5" y2="385"/>
<line x1="1440.5" y1="381" x2="1440.5" y2="389"/>
<line x1="1532.5" y1="381" x2="1532.5" y2="385"/>
<line x1="1624.5" y1="381" x2="1624.5" y2="389"/>
<line x1="1717.5" y1="381" x2="1717.5" y2="385"/>
</g>
<g font-size="39" stroke="#000" stroke-width="1.5" stroke-linejoin="round">
<text transform="translate(1243.6,165.9) scale(1,1.03)" text-anchor="end">0.065</text>
<text transform="translate(1243.6,392) scale(1,1.03)" text-anchor="end">0.060</text>
<text transform="translate(1255.5,422.7) scale(1,1.03)" text-anchor="middle">2500</text>
<text transform="translate(1440.2,422.7) scale(1,1.03)" text-anchor="middle">3000</text>
<text transform="translate(1624.8,422.7) scale(1,1.03)" text-anchor="middle">3500</text>
<text transform="translate(1809.5,422.7) scale(1,1.03)" text-anchor="middle">4000</text>
</g>
</svg></body></html>
